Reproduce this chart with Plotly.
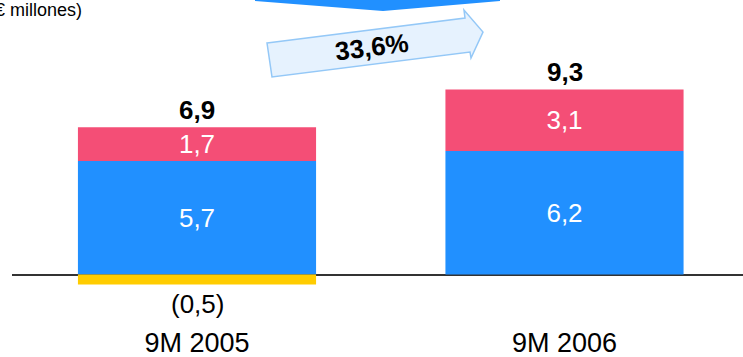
import plotly.graph_objects as go

categories = ["9M 2005", "9M 2006"]
blue_vals = [5.7, 6.2]
pink_vals = [1.7, 3.1]
yellow_vals = [-0.5, 0.0]
totals = [6.9, 9.3]
blue_labels = ["5,7", "6,2"]
pink_labels = ["1,7", "3,1"]
yellow_labels = ["(0,5)", ""]
total_labels = ["6,9", "9,3"]
growth_label = "33,6%"
unit_label = "(€ millones)"

W, H = 743, 357
ML, MR, MT, MB = 12, 0, 0, 37
PW, PH = W - ML - MR, H - MT - MB

def px(x):
    return (x - ML) / PW

def py(y):
    return (H - MB - y) / PH

FONT = "Liberation Sans, Arial, sans-serif"
BLUE = "#2190FF"
PINK = "#F44E76"
YELLOW = "#FFCC00"
BW = 0.648

fig = go.Figure()
fig.add_trace(go.Bar(x=categories, y=blue_vals, marker=dict(color=BLUE, line=dict(width=0)),
                     text=blue_labels, textposition="inside", insidetextanchor="middle",
                     constraintext="none",
                     textfont=dict(color="white", size=26, family=FONT), width=BW,
                     hoverinfo="skip"))
fig.add_trace(go.Bar(x=categories, y=pink_vals, marker=dict(color=PINK, line=dict(width=0)),
                     text=pink_labels, textposition="inside", insidetextanchor="middle",
                     constraintext="none",
                     textfont=dict(color="white", size=26, family=FONT), width=BW,
                     hoverinfo="skip"))
fig.add_trace(go.Bar(x=categories, y=yellow_vals, marker=dict(color=YELLOW, line=dict(width=0)),
                     width=BW, hoverinfo="skip"))

# total labels sit just above the top of the positive stack
stack_tops = [b + p for b, p in zip(blue_vals, pink_vals)]

annotations = []
for c, t, lab in zip(categories, stack_tops, total_labels):
    annotations.append(dict(x=c, y=t, text="<b>" + lab + "</b>", showarrow=False,
                            xanchor="center", yanchor="bottom", yshift=0,
                            font=dict(size=26, color="black", family=FONT)))
for c, v, lab in zip(categories, yellow_vals, yellow_labels):
    if lab:
        annotations.append(dict(x=c, y=v, text=lab, showarrow=False,
                                xanchor="center", yanchor="top", yshift=-3,
                                font=dict(size=26, color="black", family=FONT)))
annotations.append(dict(xref="paper", yref="paper", x=px(84), y=py(10), text=unit_label,
                        showarrow=False, xanchor="right", yanchor="middle",
                        font=dict(size=18, color="black", family=FONT)))
annotations.append(dict(xref="paper", yref="paper", x=px(372), y=py(47),
                        text="<b>" + growth_label + "</b>", showarrow=False, textangle=-7,
                        xanchor="center", yanchor="middle",
                        font=dict(size=26, color="black", family=FONT)))

def path(points):
    return "M " + " L ".join(f"{px(a):.5f},{py(b):.5f}" for a, b in points) + " Z"

shapes = [
    dict(type="path", xref="paper", yref="paper",
         path=path([(255, -2), (500, -2), (500, 1), (383, 11), (255, 1)]),
         fillcolor=BLUE, line=dict(width=0), layer="above"),
    dict(type="path", xref="paper", yref="paper",
         path=path([(267, 43), (465, 18), (464, 10), (483, 32), (471, 58), (470, 52), (272, 77)]),
         fillcolor="#E6F2FE", line=dict(color="#94C8F7", width=1.5), layer="below"),
]

fig.update_layout(
    width=W, height=H, margin=dict(l=ML, r=MR, t=MT, b=MB, pad=0),
    barmode="relative", showlegend=False,
    plot_bgcolor="white", paper_bgcolor="white",
    annotations=annotations, shapes=shapes,
    xaxis=dict(range=[-0.5034, 1.4857], showgrid=False, showline=False, ticks="",
               tickfont=dict(size=27, color="black", family=FONT), ticklabelstandoff=4),
    yaxis=dict(range=[-2.286, 13.794], showgrid=False, showticklabels=False, ticks="",
               zeroline=True, zerolinecolor="#333333", zerolinewidth=1.5),
    font=dict(family=FONT),
)
fig.write_html("out.html")
